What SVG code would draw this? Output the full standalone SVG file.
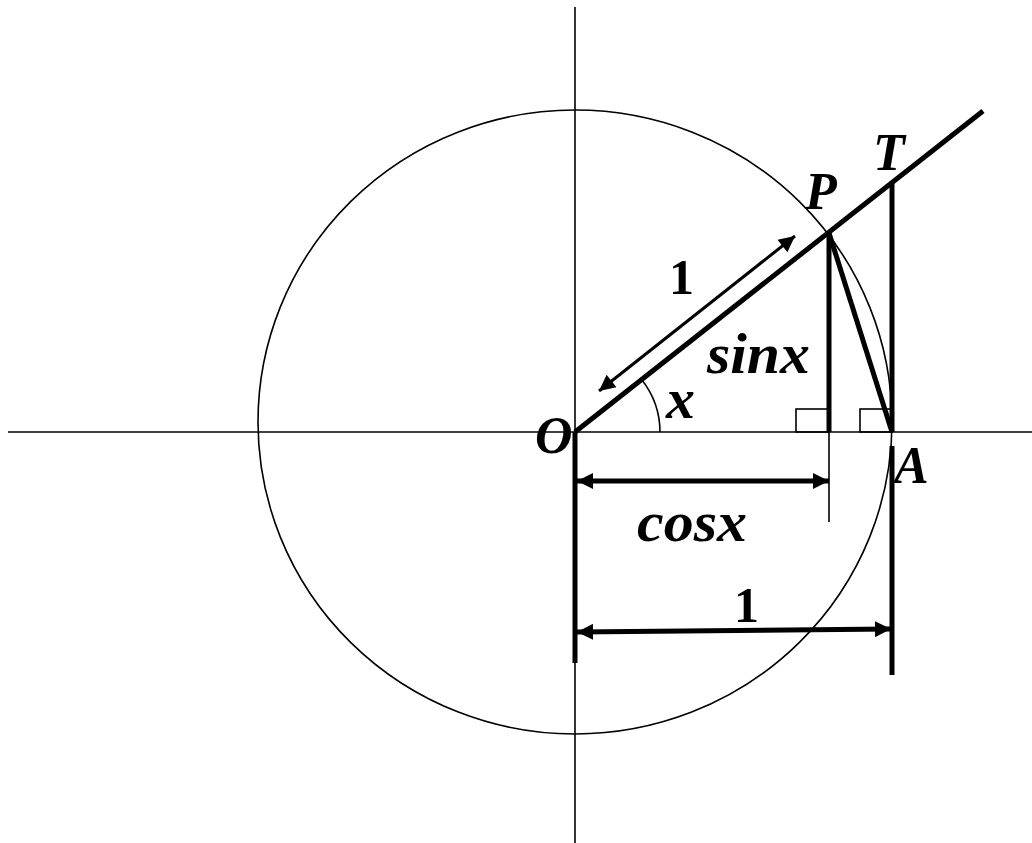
<svg xmlns="http://www.w3.org/2000/svg" width="1032" height="843" viewBox="0 0 1032 843">
<style>
.thin{stroke:#000;stroke-width:1.6;fill:none}
.thick{stroke:#000;stroke-width:5;fill:none;stroke-linecap:butt}
.lbl{font-family:"Liberation Serif","DejaVu Serif",serif;font-weight:bold;font-style:italic;font-size:52px;fill:#000}
.low{font-size:58px}
.num{font-family:"Liberation Serif","DejaVu Serif",serif;font-weight:bold;font-size:50px;fill:#000}
</style>
<defs>
<marker id="ah" viewBox="0 0 10 10" refX="10" refY="5" markerWidth="16" markerHeight="16" markerUnits="userSpaceOnUse" orient="auto-start-reverse">
<path d="M0,0 L10,5 L0,10 z" fill="#000"/>
</marker>
<marker id="ah2" viewBox="0 0 10 10" refX="10" refY="5" markerWidth="18" markerHeight="16" markerUnits="userSpaceOnUse" orient="auto-start-reverse">
<path d="M0,0 L10,5 L0,10 z" fill="#000"/>
</marker>
</defs>
<rect width="1032" height="843" fill="#fff"/>
<g id="axes">
<line class="thin" x1="8" y1="432" x2="1032" y2="432"/>
<line class="thin" x1="575" y1="7" x2="575" y2="843"/>
</g>
<g id="circle">
<ellipse class="thin" cx="575" cy="422" rx="317" ry="312"/>
</g>
<g id="connectors">
<line class="thick" x1="575" y1="432" x2="983" y2="111" stroke-width="6"/>
<line class="thick" x1="829" y1="233" x2="829" y2="432"/>
<line class="thin" x1="829" y1="432" x2="829" y2="522"/>
<line class="thick" x1="829" y1="233" x2="892" y2="432"/>
<line class="thick" x1="892" y1="183" x2="892" y2="432"/>
<line class="thick" x1="892" y1="446" x2="892" y2="675"/>
<line class="thick" x1="575" y1="432" x2="575" y2="663"/>
<rect class="thin" x="796" y="409" width="33" height="23"/>
<rect class="thin" x="860" y="409" width="32" height="23"/>
<path class="thin" d="M660,432 A85,85 0 0 0 642,380" stroke-width="1.8"/>
<line x1="599" y1="391" x2="795" y2="236" stroke="#000" stroke-width="3" marker-start="url(#ah2)" marker-end="url(#ah2)"/>
<line x1="577" y1="481" x2="829" y2="481" stroke="#000" stroke-width="5" marker-start="url(#ah)" marker-end="url(#ah)"/>
<line x1="577" y1="632" x2="891" y2="629" stroke="#000" stroke-width="5" marker-start="url(#ah)" marker-end="url(#ah)"/>
</g>
<g id="labels">
<text class="lbl" x="535" y="453" font-size="56">O</text>
<text class="lbl" x="805" y="209">P</text>
<text class="lbl" x="873" y="170">T</text>
<text class="lbl" x="894" y="483">A</text>
<text class="lbl low" x="666" y="418">x</text>
<text class="lbl low" x="707" y="373" textLength="103" lengthAdjust="spacingAndGlyphs">sinx</text>
<text class="lbl low" x="637" y="541" textLength="110" lengthAdjust="spacingAndGlyphs">cosx</text>
<text class="num" x="669" y="294">1</text>
<text class="num" x="734" y="622">1</text>
</g>
</svg>
